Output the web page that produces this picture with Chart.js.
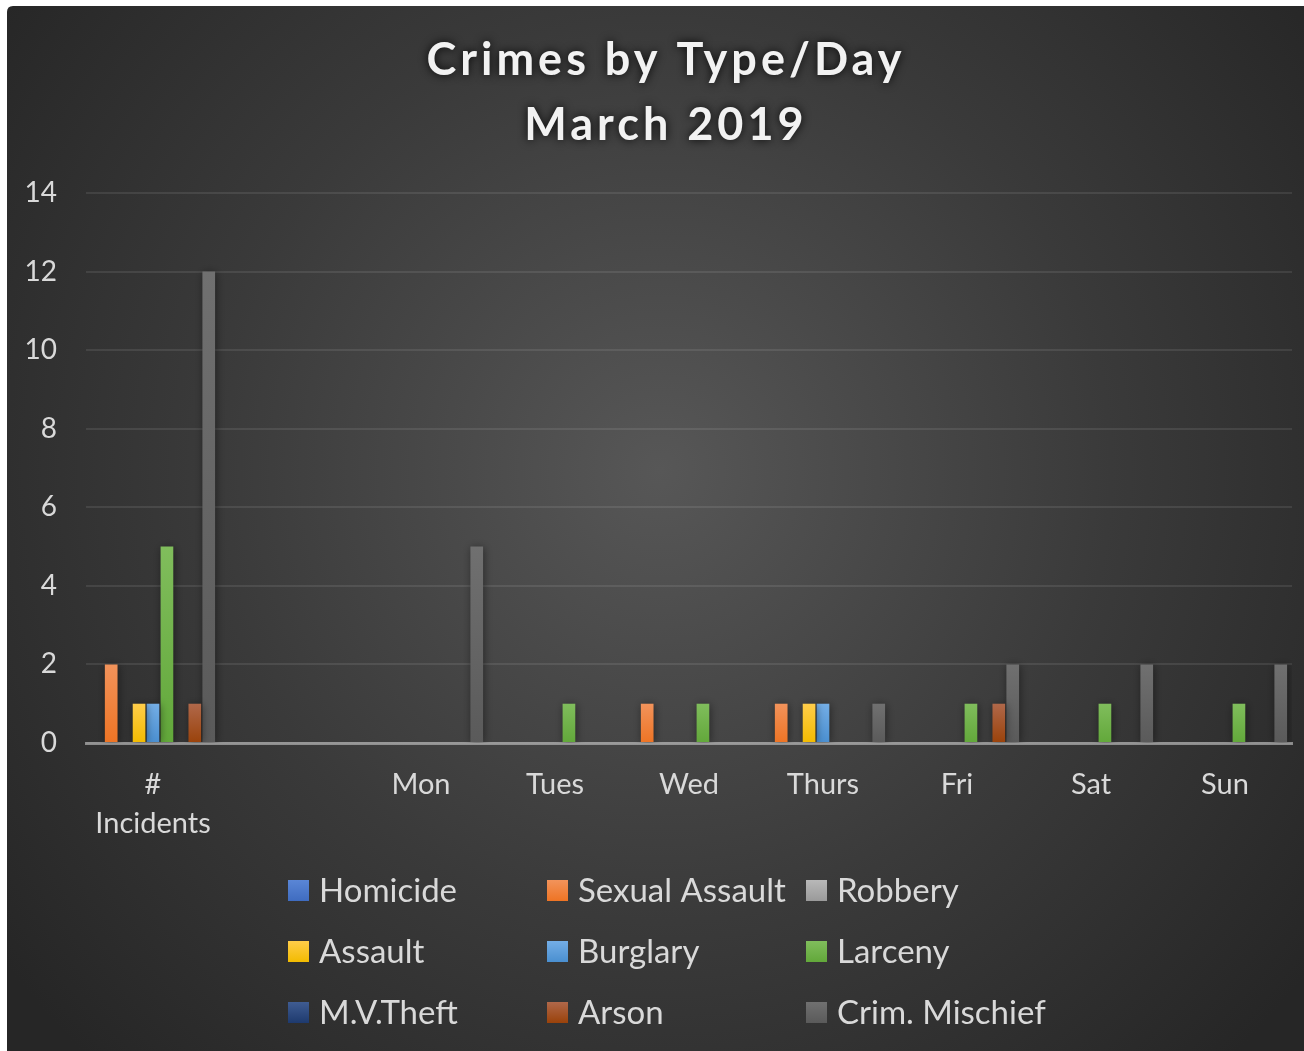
<!DOCTYPE html>
<html>
<head>
<meta charset="utf-8">
<title>Crimes by Type/Day - March 2019</title>
<script src="https://cdn.jsdelivr.net/npm/chart.js@4.4.1/dist/chart.umd.min.js"></script>
<style>
  html, body { margin: 0; padding: 0; background: #ffffff; }
  #wrap { width: 1304px; height: 1051px; }
</style>
</head>
<body>
<div id="wrap"><canvas id="crimesChart" width="1304" height="1051"></canvas></div>
<script>
// ── DATA ──
const categories = [['#', 'Incidents'], '', 'Mon', 'Tues', 'Wed', 'Thurs', 'Fri', 'Sat', 'Sun'];
const seriesNames = ['Homicide', 'Sexual Assault', 'Robbery', 'Assault', 'Burglary', 'Larceny', 'M.V.Theft', 'Arson', 'Crim. Mischief'];

const homicide      = [0, 0, 0, 0, 0, 0, 0, 0, 0];
const sexualAssault = [2, 0, 0, 0, 1, 1, 0, 0, 0];
const robbery       = [0, 0, 0, 0, 0, 0, 0, 0, 0];
const assault       = [1, 0, 0, 0, 0, 1, 0, 0, 0];
const burglary      = [1, 0, 0, 0, 0, 1, 0, 0, 0];
const larceny       = [5, 0, 0, 1, 1, 0, 1, 1, 1];
const mvTheft       = [0, 0, 0, 0, 0, 0, 0, 0, 0];
const arson         = [1, 0, 0, 0, 0, 0, 1, 0, 0];
const crimMischief  = [12, 0, 5, 0, 0, 1, 2, 2, 2];

const yTicks = { min: 0, max: 14, step: 2 };

// cores (topo mais claro, base mais escura) no estilo do Excel
const colorsTop    = ['#5a86d6', '#f2935b', '#b8b8b8', '#ffcd4a', '#74aee6', '#80bd5c', '#3f5c92', '#b0684a', '#707070'];
const colorsBottom = ['#3f6cc0', '#ee7424', '#9a9a9a', '#f2bb00', '#4a8fd0', '#62a83a', '#1e3a6e', '#9a420a', '#5a5a5a'];

const seriesData = [homicide, sexualAssault, robbery, assault, burglary, larceny, mvTheft, arson, crimMischief];

const FONT = 'Lato, "Open Sans", sans-serif';

function barGradient(ctx, i) {
    const chart = ctx.chart;
    const yScale = chart.scales.y;
    if (!yScale || ctx.type !== 'data') return colorsBottom[i];
    const v = ctx.raw || 0;
    const top = yScale.getPixelForValue(v);
    const bottom = yScale.getPixelForValue(0);
    if (!isFinite(top) || !isFinite(bottom) || top === bottom) return colorsBottom[i];
    const g = chart.ctx.createLinearGradient(0, top, 0, bottom);
    g.addColorStop(0, colorsTop[i]);
    g.addColorStop(1, colorsBottom[i]);
    return g;
}

// ── PLUGINS ──
const fundoPlugin = {
    id: 'fundo',
    beforeDraw(chart) {
        const c = chart.ctx;
        const W = chart.width, H = chart.height;
        c.save();
        c.fillStyle = '#ffffff';
        c.fillRect(0, 0, W, H);
        const x0 = 7, y0 = 6, r = 6;
        c.beginPath();
        c.moveTo(x0 + r, y0);
        c.lineTo(W, y0);
        c.lineTo(W, H);
        c.lineTo(x0, H);
        c.lineTo(x0, y0 + r);
        c.quadraticCurveTo(x0, y0, x0 + r, y0);
        c.closePath();
        const g = c.createRadialGradient(660, 470, 0, 660, 470, 820);
        g.addColorStop(0, '#575757');
        g.addColorStop(0.55, '#3a3a3a');
        g.addColorStop(1, '#262626');
        c.fillStyle = g;
        c.fill();
        c.restore();
    }
};

const sombraBarras = {
    id: 'sombraBarras',
    beforeDatasetsDraw(chart) {
        const c = chart.ctx;
        c.save();
        c.shadowColor = 'rgba(0,0,0,0.45)';
        c.shadowBlur = 8;
        c.shadowOffsetX = 1;
        c.shadowOffsetY = 1;
    },
    afterDatasetsDraw(chart) {
        chart.ctx.restore();
    }
};

const tituloPlugin = {
    id: 'titulo',
    afterDraw(chart) {
        const c = chart.ctx;
        c.save();
        c.font = 'bold 45px ' + FONT;
        c.textAlign = 'center';
        c.textBaseline = 'alphabetic';
        if ('letterSpacing' in c) c.letterSpacing = '4px';
        c.shadowColor = 'rgba(0,0,0,0.9)';
        c.shadowBlur = 10;
        c.fillStyle = '#f2f2f2';
        // letterSpacing adds trailing space after the last glyph; shift by half
        c.fillText('Crimes by Type/Day', 666, 75);
        c.fillText('March 2019', 666, 140);
        c.restore();
    }
};

const legendaPlugin = {
    id: 'legenda',
    afterDraw(chart) {
        const c = chart.ctx;
        c.save();
        c.font = '33px ' + FONT;
        c.textAlign = 'left';
        c.textBaseline = 'middle';
        chart.data.datasets.forEach((ds, i) => {
            const col = i % 3, row = Math.floor(i / 3);
            const x = 288 + col * 259;
            const y = 890 + row * 61;
            const g = c.createLinearGradient(0, y - 10, 0, y + 11);
            g.addColorStop(0, colorsTop[i]);
            g.addColorStop(1, colorsBottom[i]);
            c.fillStyle = g;
            c.fillRect(x, y - 10, 21, 21);
            c.fillStyle = '#d9d9d9';
            c.fillText(ds.label, x + 31, y + 1);
        });
        c.restore();
    }
};

// ── GRÁFICO ──
const datasets = seriesNames.map((name, i) => ({
    label: name,
    data: seriesData[i],
    backgroundColor: (ctx) => barGradient(ctx, i),
    borderWidth: 0,
    categoryPercentage: 0.936,
    barPercentage: 0.91
}));

new Chart(document.getElementById('crimesChart'), {
    type: 'bar',
    data: { labels: categories, datasets: datasets },
    options: {
        responsive: false,
        animation: false,
        devicePixelRatio: 1,
        layout: { padding: { left: 7, right: 12, top: 193, bottom: 0 } },
        plugins: {
            legend: { display: false },
            title: { display: false },
            tooltip: { enabled: false }
        },
        scales: {
            x: {
                grid: { display: false, drawTicks: false },
                border: { display: true, color: 'rgba(200,200,200,0.6)', width: 3 },
                ticks: {
                    color: '#d9d9d9',
                    font: { family: FONT, size: 29, lineHeight: 1.32 },
                    padding: 23,
                    maxRotation: 0,
                    autoSkip: false
                },
                afterFit(scale) { scale.height = 308; }
            },
            y: {
                min: yTicks.min,
                max: yTicks.max,
                grid: { color: 'rgba(255,255,255,0.09)', lineWidth: 2, drawTicks: false },
                border: { display: false },
                ticks: {
                    stepSize: yTicks.step,
                    color: '#d9d9d9',
                    font: { family: FONT, size: 28 },
                    padding: 29
                },
                afterFit(scale) { scale.width = 79; }
            }
        }
    },
    plugins: [fundoPlugin, sombraBarras, tituloPlugin, legendaPlugin]
});
</script>
</body>
</html>
